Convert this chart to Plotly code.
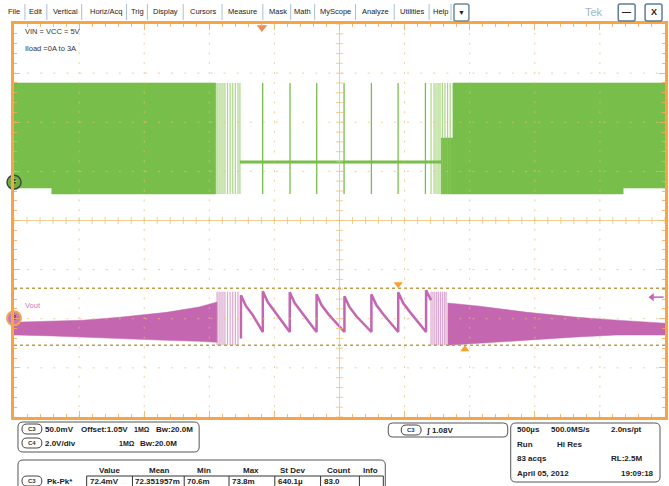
import plotly.graph_objects as go

FONT = "Liberation Sans, Arial, sans-serif"
GREEN = "#78BE4A"
GREEN_LT = "rgba(140,200,90,0.75)"
PINK = "#C466B0"
PINK_LT = "rgba(205,135,190,0.75)"
ORANGE = "#F6A446"
GRID = "rgba(238,190,110,0.75)"

# ---------------- data (time in µs, 500 µs/div ; amplitude in divisions) ----------------
x_range = [-2500, 2500]
y_range = [-4, 4]
x_major = [-2000, -1500, -1000, -500, 500, 1000, 1500, 2000]
y_major = [-3, -2, -1, 1, 2, 3]

# CH4 (switch node) - envelopes of the dense switching bursts
c4_left_t = [-2500, -2210, -2210, -950]
c4_left_top = [2.80, 2.80, 2.80, 2.80]
c4_left_bot = [0.66, 0.66, 0.54, 0.54]
c4_right_t = [780, 871, 871, 2179, 2179, 2500]
c4_right_top = [1.68, 1.68, 2.80, 2.80, 2.80, 2.80]
c4_right_bot = [0.54, 0.54, 0.54, 0.54, 0.66, 0.66]
c4_sparse_left = [-940, -925, -910, -895, -880, -860, -840, -820, -800, -780, -765]
c4_sparse_right = [703, 726, 741, 757, 772, 790, 810, 830, 850]
c4_pulse_t = [-590, -380, -175, 35, 245, 450, 660]
c4_high, c4_low = 2.80, 0.54
c4_flat_t = [-765, 780]
c4_flat_v = [1.19, 1.19]

# CH3 (Vout) - ripple envelopes and sawtooth
c3_left_t = [-2500, -2200, -1973, -1690, -1330, -1078, -940]
c3_left_top = [-2.07, -2.05, -2.03, -1.97, -1.87, -1.76, -1.66]
c3_left_bot = [-2.33, -2.35, -2.37, -2.40, -2.44, -2.46, -2.48]
c3_right_t = [830, 1063, 1445, 1827, 2133, 2500]
c3_right_top = [-1.68, -1.74, -1.87, -1.97, -2.03, -2.09]
c3_right_bot = [-2.54, -2.50, -2.44, -2.37, -2.33, -2.33]
c3_sparse_left = [-940, -925, -910, -895, -880, -860, -840, -820, -800, -780]
c3_sparse_right = [703, 718, 732, 746, 760, 775, 790, 805, 818]
c3_sparse_top, c3_sparse_bot = -1.45, -2.54
saw_t = [-757, -757, -719, -665, -589,
         -589, -551, -497, -382,
         -382, -344, -291, -176,
         -176, -138, -84, 38,
         38, 76, 130, 245,
         245, 283, 336, 451,
         451, 489, 543, 665,
         665, 703]
saw_v = [-2.40, -1.52, -1.74, -1.93, -2.27,
         -1.44, -1.66, -1.85, -2.27,
         -1.46, -1.68, -1.87, -2.27,
         -1.50, -1.72, -1.91, -2.27,
         -1.54, -1.76, -1.95, -2.27,
         -1.50, -1.72, -1.91, -2.27,
         -1.46, -1.68, -1.87, -2.27,
         -1.42, -1.62]

cursor_levels = [-1.38, -2.54]
cursor_mark_t = [451, 963]
cursor_mark_v = [-1.30, -2.62]
trig_pos_t = -596
trig_level = -1.56
c4_offset = 0.78
c3_offset = -1.99

menu_items = ["File", "Edit", "Vertical", "Horiz/Acq", "Trig", "Display", "Cursors", "Measure",
              "Mask", "Math", "MyScope", "Analyze", "Utilities", "Help"]
menu_x = [14, 36, 66, 107, 138, 166, 204, 244, 279, 304, 337, 377, 414, 442]
menu_sep = [25, 47, 82, 127, 148, 184, 223, 264, 292, 316, 357, 396, 431, 453]

meas_headers = ["Value", "Mean", "Min", "Max", "St Dev", "Count", "Info"]
meas_header_x = [110, 160, 205, 252, 294, 340, 372]
meas_values = ["72.4mV", "72.351957m", "70.6m", "73.8m", "640.1µ", "83.0", ""]
meas_cells = [87, 133, 185, 230, 276, 322, 361, 385]

# ---------------- helpers (pixel -> paper) ----------------
L, R, T, B = 14, 668, 24, 417
def ax(px):
    return (px - L) / (R - L)
def ay(py):
    return (B - py) / (B - T)

fig = go.Figure()

def band(t, top, bot, color):
    fig.add_trace(go.Scatter(x=t + t[::-1], y=top + bot[::-1], fill="toself", fillcolor=color,
                             mode="lines", line=dict(color=color, width=0.5), hoverinfo="skip"))

def vlines(ts, y0, y1, color, width):
    xs, ys = [], []
    for t in ts:
        xs += [t, t, None]
        ys += [y0, y1, None]
    fig.add_trace(go.Scatter(x=xs, y=ys, mode="lines", line=dict(color=color, width=width), hoverinfo="skip"))

# CH4
band(c4_left_t, c4_left_top, c4_left_bot, GREEN)
band(c4_right_t, c4_right_top, c4_right_bot, GREEN)
vlines(c4_sparse_left, c4_high, c4_low, GREEN_LT, 1.2)
vlines(c4_sparse_right, c4_high, c4_low, GREEN_LT, 1.2)
vlines(c4_pulse_t, c4_high, c4_low, GREEN, 1.3)
fig.add_trace(go.Scatter(x=c4_flat_t, y=c4_flat_v, mode="lines", line=dict(color=GREEN, width=3), hoverinfo="skip"))

# CH3
band(c3_left_t, c3_left_top, c3_left_bot, PINK)
band(c3_right_t, c3_right_top, c3_right_bot, PINK)
vlines(c3_sparse_left, c3_sparse_top, c3_sparse_bot, PINK_LT, 1.2)
vlines(c3_sparse_right, c3_sparse_top, c3_sparse_bot, PINK_LT, 1.2)
fig.add_trace(go.Scatter(x=saw_t, y=saw_v, mode="lines", line=dict(color=PINK, width=2.5), hoverinfo="skip"))

# cursors
for lv in cursor_levels:
    fig.add_trace(go.Scatter(x=x_range, y=[lv, lv], mode="lines",
                             line=dict(color="#B8A050", width=1.5, dash="dot"), hoverinfo="skip"))
fig.add_trace(go.Scatter(x=cursor_mark_t, y=cursor_mark_v, mode="markers", cliponaxis=False,
                         marker=dict(symbol=["triangle-down", "triangle-up"], size=8, color="#F5A030"),
                         hoverinfo="skip"))

# centre cross tick marks
cx = [x_range[0] + 100 * i for i in range(51)]
cy = [y_range[0] + 0.2 * i for i in range(41)]
fig.add_trace(go.Scatter(x=cx, y=[0] * len(cx), mode="markers", hoverinfo="skip",
                         marker=dict(symbol="line-ns", size=5, line=dict(color=GRID, width=1))))
fig.add_trace(go.Scatter(x=[0] * len(cy), y=cy, mode="markers", hoverinfo="skip",
                         marker=dict(symbol="line-ew", size=5, line=dict(color=GRID, width=1))))

# trigger markers
fig.add_trace(go.Scatter(x=[trig_pos_t], y=[3.93], mode="markers", cliponaxis=False, hoverinfo="skip",
                         marker=dict(symbol="triangle-down", size=9, color="#F08A50")))
fig.add_trace(go.Scatter(x=[2400, 2490], y=[trig_level, trig_level], mode="lines", hoverinfo="skip",
                         line=dict(color=PINK, width=1.5)))
fig.add_trace(go.Scatter(x=[2400], y=[trig_level], mode="markers", hoverinfo="skip",
                         marker=dict(symbol="triangle-left", size=7, color=PINK)))

# channel markers
fig.add_trace(go.Scatter(x=[x_range[0]], y=[c4_offset], mode="markers+text", text=["4"], cliponaxis=False,
                         textposition="middle center", textfont=dict(family=FONT, size=8, color="#222"),
                         marker=dict(size=14, color="#6DB040", line=dict(color="#444", width=1.5)),
                         hoverinfo="skip"))
fig.add_trace(go.Scatter(x=[x_range[0]], y=[c3_offset], mode="markers+text", text=["3"], cliponaxis=False,
                         textposition="middle center", textfont=dict(family=FONT, size=8, color="#333"),
                         marker=dict(size=14, color="#C77BB8", line=dict(color="#F2A650", width=2)),
                         hoverinfo="skip"))

shapes = []
# graticule dashed lines (above traces)
for xv in x_major:
    shapes.append(dict(type="line", xref="x", yref="y", x0=xv, x1=xv, y0=y_range[0], y1=y_range[1],
                       line=dict(color=GRID, width=1, dash="2px,7.8px"), layer="above"))
for yv in y_major:
    shapes.append(dict(type="line", xref="x", yref="y", x0=x_range[0], x1=x_range[1], y0=yv, y1=yv,
                       line=dict(color=GRID, width=1, dash="2px,11.1px"), layer="above"))
shapes.append(dict(type="line", xref="x", yref="y", x0=0, x1=0, y0=y_range[0], y1=y_range[1],
                   line=dict(color=GRID, width=1), layer="above"))
shapes.append(dict(type="line", xref="x", yref="y", x0=x_range[0], x1=x_range[1], y0=0, y1=0,
                   line=dict(color=GRID, width=1), layer="above"))

def rrect(x0, y0, x1, y1, r, color="#555", width=1, fill="rgba(0,0,0,0)"):
    p = (f"M {ax(x0 + r)},{ay(y0)} L {ax(x1 - r)},{ay(y0)} Q {ax(x1)},{ay(y0)} {ax(x1)},{ay(y0 + r)} "
         f"L {ax(x1)},{ay(y1 - r)} Q {ax(x1)},{ay(y1)} {ax(x1 - r)},{ay(y1)} "
         f"L {ax(x0 + r)},{ay(y1)} Q {ax(x0)},{ay(y1)} {ax(x0)},{ay(y1 - r)} "
         f"L {ax(x0)},{ay(y0 + r)} Q {ax(x0)},{ay(y0)} {ax(x0 + r)},{ay(y0)} Z")
    shapes.append(dict(type="path", xref="paper", yref="paper", path=p,
                       line=dict(color=color, width=width), fillcolor=fill, layer="above"))

def line_px(x0, y0, x1, y1, color="#555", width=1):
    shapes.append(dict(type="line", xref="paper", yref="paper", x0=ax(x0), y0=ay(y0), x1=ax(x1), y1=ay(y1),
                       line=dict(color=color, width=width), layer="above"))

annotations = []
def txt(px, py, s, size=8, color="#222", bold=True, anchor="left"):
    annotations.append(dict(x=ax(px), y=ay(py), xref="paper", yref="paper",
                            text=("<b>" + s + "</b>") if bold else s, showarrow=False,
                            xanchor=anchor, yanchor="middle", borderpad=0,
                            font=dict(family=FONT, size=size, color=color)))

def pill(cx_, cy_, label):
    rrect(cx_ - 10, cy_ - 5, cx_ + 10, cy_ + 5, 5, color="#444", width=1)
    txt(cx_, cy_, label, size=6, color="#333", bold=True, anchor="center")

# menu bar
for name, xm in zip(menu_items, menu_x):
    txt(xm, 12, name, size=7.5, color="#222", bold=False, anchor="center")
for xs_ in menu_sep:
    line_px(xs_, 4, xs_, 20, color="#A9C0D2", width=1)
rrect(456, 4, 471, 21, 2, color="#6B8BA3", width=1.5)
txt(463.5, 12.5, "▼", size=7, color="#222", bold=False, anchor="center")
txt(597, 12, "Tek", size=11, color="#9FB4C8", bold=False, anchor="center")
rrect(621, 4, 638, 21, 2, color="#5E7E96", width=1.5)
txt(629.5, 12.5, "—", size=9, color="#222", bold=True, anchor="center")
rrect(648, 4, 665, 21, 2, color="#5E7E96", width=1.5)
txt(656.5, 12.5, "X", size=9, color="#222", bold=True, anchor="center")

# on-screen labels
txt(24, 32, "VIN = VCC = 5V", size=7.5, color="#333", bold=False)
txt(24, 48, "Iload =0A to 3A", size=7.5, color="#333", bold=False)
txt(24, 305, "Vout", size=7.5, color="#C77BB8", bold=False)

# bottom panel: vertical settings
rrect(18, 422, 200, 452, 5)
pill(32, 429, "C3")
txt(44, 429, "50.0mV")
txt(80, 429, "Offset:1.05V")
txt(134, 429, "1MΩ", size=7)
txt(156, 429, "Bw:20.0M")
pill(32, 443, "C4")
txt(44, 443, "2.0V/div")
txt(118, 443, "1MΩ", size=7)
txt(140, 443, "Bw:20.0M")

# trigger box
rrect(390, 423, 510, 437, 4)
pill(413, 430, "C3")
txt(427, 430, "ʃ 1.08V")

# acquisition box
rrect(513, 423, 663, 482, 5)
txt(518, 429, "500µs")
txt(552, 429, "500.0MS/s")
txt(613, 429, "2.0ns/pt")
txt(518, 444, "Run")
txt(558, 444, "Hi Res")
txt(518, 458, "83 acqs")
txt(613, 458, "RL:2.5M")
txt(518, 473, "April 05, 2012")
txt(658, 473, "19:09:18", anchor="right")

# measurement table
rrect(18, 460, 387, 500, 5)
for h, hx in zip(meas_headers, meas_header_x):
    txt(hx, 470, h, anchor="center")
pill(32, 481, "C3")
txt(46, 481, "Pk-Pk*")
line_px(meas_cells[0], 476, meas_cells[-1], 476, color="#333")
for cxp in meas_cells:
    line_px(cxp, 476, cxp, 490, color="#333")
for v, cxp in zip(meas_values, meas_cells[:-1]):
    if v:
        txt(cxp + 2, 481, v)

tick_col = "rgba(240,170,100,0.85)"
fig.update_layout(
    width=669, height=486,
    margin=dict(l=L, r=669 - R, t=T, b=486 - B),
    paper_bgcolor="white", plot_bgcolor="white",
    showlegend=False, hovermode=False,
    shapes=shapes, annotations=annotations,
    xaxis=dict(range=x_range, showgrid=False, zeroline=False, showline=True, linecolor=ORANGE,
               linewidth=3, mirror="allticks", ticks="inside", ticklen=6, tickwidth=1, tickcolor=tick_col,
               tick0=-2500, dtick=500, showticklabels=False, layer="above traces", fixedrange=True,
               minor=dict(ticks="inside", ticklen=3, dtick=100, tick0=-2500, tickcolor=tick_col, showgrid=False)),
    yaxis=dict(range=y_range, showgrid=False, zeroline=False, showline=True, linecolor=ORANGE,
               linewidth=3, mirror="allticks", ticks="inside", ticklen=6, tickwidth=1, tickcolor=tick_col,
               tick0=-4, dtick=1, showticklabels=False, layer="above traces", fixedrange=True,
               minor=dict(ticks="inside", ticklen=3, dtick=0.2, tick0=-4, tickcolor=tick_col, showgrid=False)),
)

fig.write_html("out.html", config={"displayModeBar": False},
               post_script="document.body.style.margin='0';document.body.style.overflow='hidden';")
